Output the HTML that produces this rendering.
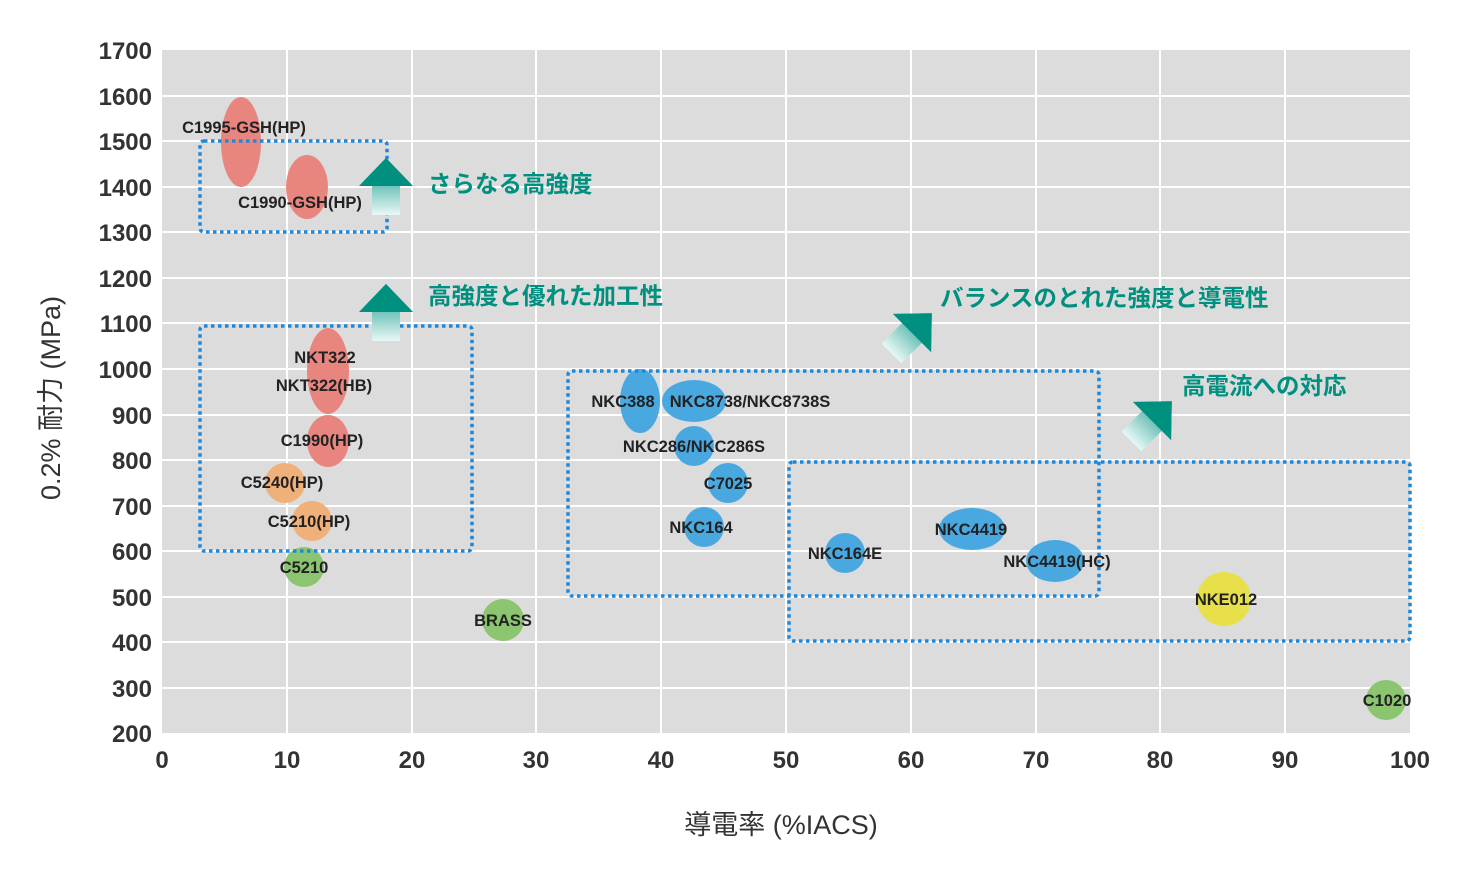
<!DOCTYPE html>
<html><head><meta charset="utf-8"><style>
body{margin:0;background:#fff}
svg{display:block}
.t{font-family:"Liberation Sans","Noto Sans CJK JP",sans-serif}
</style></head><body>
<svg width="1474" height="872" xmlns="http://www.w3.org/2000/svg" class="t">
<defs>
<linearGradient id="g" x1="0" y1="0" x2="0" y2="1"><stop offset="0" stop-color="#009080"/><stop offset="1" stop-color="#e8f8f6"/></linearGradient>
<g id="arr"><polygon points="0,-28 27,0 14,0 14,29 -14,29 -14,0 -27,0" fill="url(#g)"/><polygon points="0,-28 27,0 -27,0" fill="#009080"/></g>
</defs>
<rect x="162" y="50" width="1248" height="683" fill="#dcdcdc"/>
<g stroke="#fff" stroke-width="2">
<line x1="287" y1="50" x2="287" y2="733"/><line x1="412" y1="50" x2="412" y2="733"/><line x1="536" y1="50" x2="536" y2="733"/><line x1="661" y1="50" x2="661" y2="733"/><line x1="786" y1="50" x2="786" y2="733"/><line x1="911" y1="50" x2="911" y2="733"/><line x1="1036" y1="50" x2="1036" y2="733"/><line x1="1160" y1="50" x2="1160" y2="733"/><line x1="1285" y1="50" x2="1285" y2="733"/>
<line x1="162" y1="96" x2="1410" y2="96"/><line x1="162" y1="141" x2="1410" y2="141"/><line x1="162" y1="187" x2="1410" y2="187"/><line x1="162" y1="232" x2="1410" y2="232"/><line x1="162" y1="278" x2="1410" y2="278"/><line x1="162" y1="323" x2="1410" y2="323"/><line x1="162" y1="369" x2="1410" y2="369"/><line x1="162" y1="415" x2="1410" y2="415"/><line x1="162" y1="460" x2="1410" y2="460"/><line x1="162" y1="506" x2="1410" y2="506"/><line x1="162" y1="551" x2="1410" y2="551"/><line x1="162" y1="597" x2="1410" y2="597"/><line x1="162" y1="642" x2="1410" y2="642"/><line x1="162" y1="688" x2="1410" y2="688"/>
</g>
<g fill="#e8857f"><ellipse cx="241" cy="142" rx="20" ry="45"/><ellipse cx="307" cy="187" rx="21" ry="32"/><ellipse cx="328" cy="371" rx="21" ry="43"/><ellipse cx="328" cy="441" rx="21" ry="26"/></g>
<g fill="#f0b07a"><circle cx="285" cy="483" r="20"/><circle cx="312" cy="521" r="20"/></g>
<g fill="#8cc56f"><circle cx="304" cy="567" r="20"/><circle cx="503" cy="620" r="21"/><circle cx="1386" cy="700" r="20"/></g>
<g fill="#4aa8e0"><ellipse cx="640" cy="401" rx="20" ry="32"/><ellipse cx="694" cy="401" rx="32" ry="21"/><circle cx="694" cy="446" r="20"/><circle cx="728" cy="483" r="20"/><circle cx="704" cy="527" r="20"/><circle cx="845" cy="553" r="20"/><ellipse cx="972" cy="529" rx="33" ry="21"/><ellipse cx="1055" cy="561" rx="29" ry="21"/></g>
<circle cx="1224" cy="599" r="27" fill="#e8e04a"/>
<g fill="none" stroke="#1e88d8" stroke-width="3.5" stroke-dasharray="3.5 3.5">
<rect x="200" y="141" width="187" height="91" rx="4"/><rect x="200" y="326" width="272" height="225" rx="4"/><rect x="568" y="371" width="531" height="225" rx="4"/><rect x="789" y="462" width="621" height="179" rx="4"/>
</g>
<use href="#arr" transform="translate(386,186)"/>
<use href="#arr" transform="translate(386,312)"/>
<use href="#arr" transform="translate(912,333) rotate(45)"/>
<use href="#arr" transform="translate(1152,421) rotate(45)"/>
<g fill="#009080" font-size="23.5" font-weight="bold">
<text x="428" y="192">さらなる高強度</text><text x="428" y="304">高強度と優れた加工性</text><text x="940" y="306">バランスのとれた強度と導電性</text><text x="1182" y="394">高電流への対応</text>
</g>
<g fill="#222" font-size="16.5" font-weight="bold" text-anchor="middle">
<text x="244" y="133">C1995-GSH(HP)</text><text x="300" y="208">C1990-GSH(HP)</text><text x="325" y="363">NKT322</text><text x="324" y="391">NKT322(HB)</text><text x="322" y="446">C1990(HP)</text><text x="282" y="488">C5240(HP)</text><text x="309" y="527">C5210(HP)</text><text x="304" y="573">C5210</text><text x="503" y="626">BRASS</text><text x="623" y="407">NKC388</text><text x="750" y="407">NKC8738/NKC8738S</text><text x="694" y="452">NKC286/NKC286S</text><text x="728" y="489">C7025</text><text x="701" y="533">NKC164</text><text x="845" y="559">NKC164E</text><text x="971" y="535">NKC4419</text><text x="1057" y="567">NKC4419(HC)</text><text x="1226" y="605">NKE012</text><text x="1387" y="706">C1020</text>
</g>
<g fill="#333" font-size="24" font-weight="bold" text-anchor="end">
<text x="152" y="59">1700</text><text x="152" y="105">1600</text><text x="152" y="150">1500</text><text x="152" y="196">1400</text><text x="152" y="241">1300</text><text x="152" y="287">1200</text><text x="152" y="332">1100</text><text x="152" y="378">1000</text><text x="152" y="424">900</text><text x="152" y="469">800</text><text x="152" y="515">700</text><text x="152" y="560">600</text><text x="152" y="606">500</text><text x="152" y="651">400</text><text x="152" y="697">300</text><text x="152" y="742">200</text>
</g>
<g fill="#333" font-size="24" font-weight="bold" text-anchor="middle">
<text x="162" y="768">0</text><text x="287" y="768">10</text><text x="412" y="768">20</text><text x="536" y="768">30</text><text x="661" y="768">40</text><text x="786" y="768">50</text><text x="911" y="768">60</text><text x="1036" y="768">70</text><text x="1160" y="768">80</text><text x="1285" y="768">90</text><text x="1410" y="768">100</text>
</g>
<text x="781" y="834" fill="#333" font-size="27" text-anchor="middle">導電率 (%IACS)</text>
<text transform="translate(60,398) rotate(-90)" fill="#333" font-size="27" text-anchor="middle">0.2% 耐力 (MPa)</text>
</svg>
</body></html>
